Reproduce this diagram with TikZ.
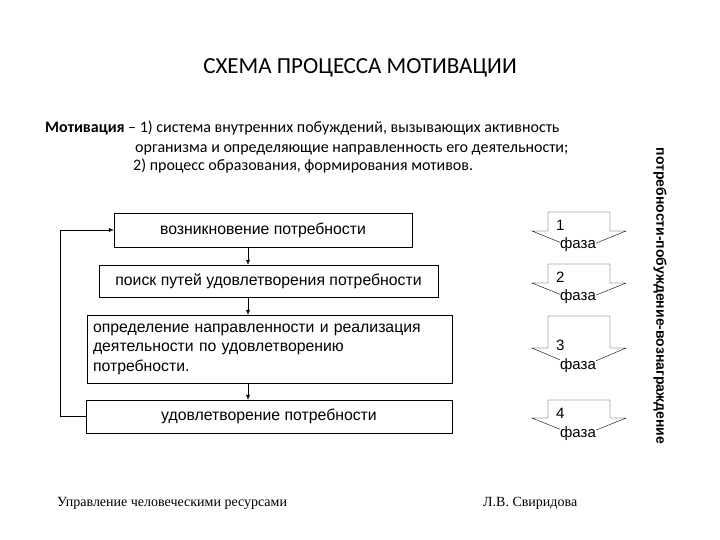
\documentclass[tikz,border=0pt]{standalone}
\usepackage{fontspec}
\setmainfont{Carlito}
\newfontfamily\arialfont{Liberation Sans}
\newfontfamily\timesfont{Liberation Serif}
\usetikzlibrary{arrows.meta,positioning}

\begin{document}
\begin{tikzpicture}[
  x=1pt, y=-1pt,
  every node/.style={inner sep=0pt},
  stage/.style={draw=black, thin, font=\arialfont\fontsize{15.8}{19.5}\selectfont, align=center},
  defn/.style={anchor=base west, font=\fontsize{16}{18}\selectfont},
  phase/.style={draw=black, thin, fill=white},
  phnum/.style={anchor=west, font=\arialfont\fontsize{15}{17}\selectfont},
  phword/.style={fill=white, inner sep=0.5pt, font=\arialfont\fontsize{15}{17}\selectfont},
  flow/.style={-{Latex[length=5pt,width=4pt]}, thin}
]
\useasboundingbox (0,0) rectangle (720,540);

% title and definition
\node (title) at (360,68) {\fontsize{23}{27}\selectfont СХЕМА ПРОЦЕССА МОТИВАЦИИ};
\node[defn] (def1) at (45,133) {\textbf{Мотивация} -- 1) система внутренних побуждений, вызывающих активность};
\node[defn] (def2) at (135,153) {организма и определяющие направленность его деятельности;};
\node[defn] (def3) at (133,171) {2) процесс образования, формирования мотивов.};

% stages
\node[stage, minimum width=298, minimum height=34] (need) at (263,230) {возникновение потребности};
\node[stage, minimum width=339, minimum height=32] (search) at (268.5,281) {поиск путей удовлетворения потребности};
\node[stage, minimum width=365, minimum height=68, text width=353, align=left] (act) at (269.5,349)
  {определение направленности и реализация\\деятельности по удовлетворению\\потребности.};
\node[stage, minimum width=366, minimum height=33] (sat) at (269,416.5) {удовлетворение потребности};

\coordinate (ax) at (248,0);
\coordinate (loop) at (60,0);
\draw[flow] (need.south -| ax) -- (search.north -| ax);
\draw[flow] (search.south -| ax) -- (act.north -| ax);
\draw[flow] (act.south -| ax) -- (sat.north -| ax);
\draw[flow] (sat.west) -- (sat.west -| loop) -- (need.west -| loop) -- (need.west);

% phases
\foreach \n/\top/\wing/\tip/\ny/\wy in {1/212/231/250/225/245, 2/264/283/302/277/297,
                                        3/316/348/368/345/366, 4/400/418/437/413/434}{
  \draw[phase] (548,\top) -- (610,\top) -- (610,\wing) -- (626,\wing) -- (579,\tip)
    -- (532,\wing) -- (548,\wing) -- cycle;
  \node[phnum] (ph\n) at (556,\ny) {\n};
  \node[phword] (phw\n) at (578,\wy) {фаза};
}

\node[rotate=-90, font=\arialfont\bfseries\fontsize{14}{16}\selectfont] (chain) at (660,296)
  {потребности-побуждение-вознаграждение};

% footer
\node[anchor=base west, font=\timesfont\fontsize{14}{16}\selectfont] (course) at (57,506)
  {Управление человеческими ресурсами};
\node[anchor=base west, font=\timesfont\fontsize{14}{16}\selectfont] (author) at (483,506)
  {Л.В. Свиридова};
\end{tikzpicture}
\end{document}
